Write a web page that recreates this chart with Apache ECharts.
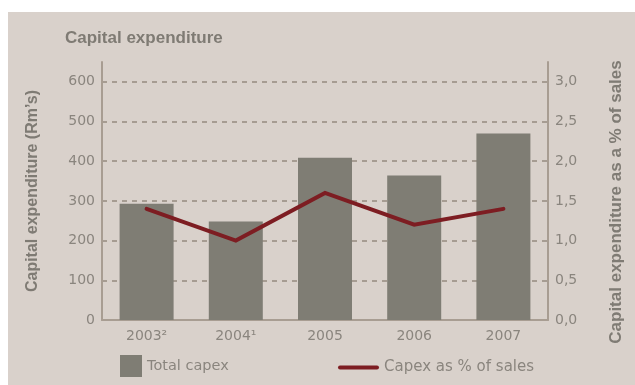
<!DOCTYPE html>
<html>
<head>
<meta charset="utf-8">
<script src="https://cdn.jsdelivr.net/npm/echarts@6/dist/echarts.min.js"></script>
<style>
  html, body { margin: 0; padding: 0; background: #ffffff; }
  #chart { width: 635px; height: 385px; }
</style>
</head>
<body>
<div id="chart"></div>
<script>
// Capital expenditure by year, with capex as a share of sales
const years = ['2003\u00B2', '2004\u00B9', '2005', '2006', '2007'];
const totalCapex = [293, 248, 409, 364, 470];      // Rm's
const capexPctSales = [1.4, 1.0, 1.6, 1.2, 1.4];   // % of sales
const leftTicks = { min: 0, max: 650, interval: 100 };
const rightTicks = { min: 0, max: 3.25, interval: 0.5 };

const panel = '#d9d1cb';
const textGrey = '#8a857e';
const nameGrey = '#7f7b74';
const axisBrown = '#a89d92';
const bodyFont = '"DejaVu Sans", sans-serif';
const headFont = '"Liberation Sans", Arial, sans-serif';

const chart = echarts.init(document.getElementById('chart'), null, { renderer: 'canvas' });

chart.setOption({
  backgroundColor: '#ffffff',
  animation: false,
  textStyle: { fontFamily: bodyFont },
  graphic: [{
    type: 'rect', silent: true, z: -10,
    shape: { x: 8, y: 12, width: 627, height: 373 },
    style: { fill: panel }
  }],
  title: {
    text: 'Capital expenditure',
    left: 60, top: 25,
    textStyle: { fontSize: 17, fontWeight: 'bold', color: nameGrey, fontFamily: headFont }
  },
  legend: [{
    data: ['Total capex'],
    left: 115, top: 350,
    itemWidth: 22, itemHeight: 22,
    icon: 'rect',
    textStyle: { fontSize: 14.5, color: textGrey, fontFamily: bodyFont }
  }, {
    data: ['Capex as % of sales'],
    left: 333, top: 355,
    itemWidth: 41, itemHeight: 22,
    icon: 'path://M2,9 L39,9 A2,2 0 0 1 39,13 L2,13 A2,2 0 0 1 2,9 Z',
    textStyle: { fontSize: 15, color: textGrey, fontFamily: bodyFont }
  }],
  grid: { left: 102, right: 87, top: 62, bottom: 65 },
  xAxis: {
    type: 'category',
    data: years,
    axisLine: { lineStyle: { color: axisBrown, width: 2 } },
    axisTick: { show: false },
    axisLabel: { color: textGrey, fontSize: 14, margin: 9, fontFamily: bodyFont }
  },
  yAxis: [{
    type: 'value',
    min: leftTicks.min, max: leftTicks.max, interval: leftTicks.interval,
    name: 'Capital expenditure (Rm\u2019s)',
    nameLocation: 'middle',
    nameGap: 61,
    nameTextStyle: { fontSize: 16, fontWeight: 'bold', color: nameGrey, fontFamily: headFont },
    axisLine: { show: true, lineStyle: { color: axisBrown, width: 2 } },
    axisTick: { show: false },
    axisLabel: { color: textGrey, fontSize: 14, margin: 7, showMaxLabel: false, fontFamily: bodyFont },
    splitLine: {
      show: true, showMinLine: false, showMaxLine: false,
      lineStyle: { color: '#a69c92', width: 2, type: [5, 5] }
    }
  }, {
    type: 'value',
    position: 'right',
    min: rightTicks.min, max: rightTicks.max, interval: rightTicks.interval,
    name: 'Capital expenditure as a % of sales',
    nameLocation: 'middle',
    nameGap: 60,
    nameRotate: 90,
    nameTextStyle: {
      fontSize: 17, fontWeight: 'bold', color: nameGrey, fontFamily: headFont,
      padding: [0, 22, 0, 0]
    },
    axisLine: { show: true, lineStyle: { color: axisBrown, width: 2 } },
    axisTick: { show: false },
    axisLabel: {
      color: textGrey, fontSize: 14, margin: 7, showMaxLabel: false, fontFamily: bodyFont,
      formatter: v => v.toFixed(1).replace('.', ',')
    },
    splitLine: { show: false }
  }],
  series: [{
    name: 'Total capex',
    type: 'bar',
    yAxisIndex: 0,
    data: totalCapex,
    barWidth: 54,
    itemStyle: { color: '#7f7d74' },
    z: 2
  }, {
    name: 'Capex as % of sales',
    type: 'line',
    yAxisIndex: 1,
    data: capexPctSales,
    symbol: 'none',
    lineStyle: { color: '#7d1d22', width: 4, cap: 'round', join: 'miter' },
    itemStyle: { color: '#7d1d22' },
    z: 3
  }]
});
</script>
</body>
</html>
